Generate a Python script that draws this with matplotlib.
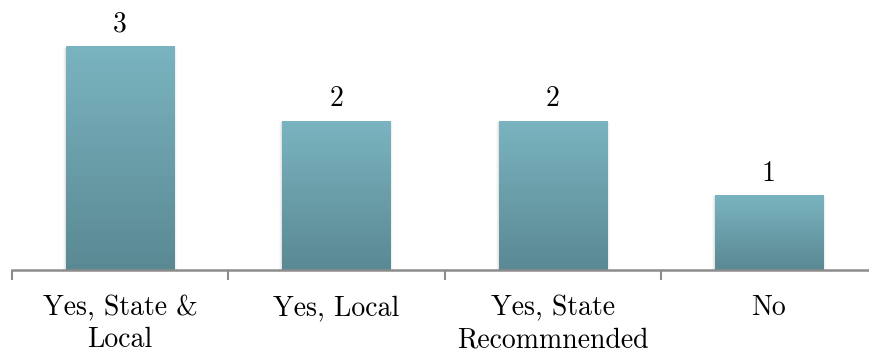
import numpy as np
import matplotlib.pyplot as plt
from matplotlib.patches import Rectangle

plt.rcParams['font.family'] = ['cmr10', 'DejaVu Serif']
plt.rcParams['axes.formatter.use_mathtext'] = True

categories = ["Yes, State &\nLocal", "Yes, Local", "Yes, State\nRecommnended", "No"]
counts = [3, 2, 2, 1]

bar_width = 0.5
top_color = np.array([0x7a, 0xb4, 0xc0]) / 255.
bottom_color = np.array([0x5a, 0x89, 0x93]) / 255.

fig = plt.figure(figsize=(8.69, 3.52), dpi=100)
ax = fig.add_axes([12 / 869., 82 / 352., 865 / 869., 270 / 352.])

x = np.arange(len(categories))

# vertical gradient, top light to bottom dark
grad = np.linspace(0, 1, 256)[:, None]
grad_rgb = top_color[None, None, :] * (1 - grad[..., None]) + bottom_color[None, None, :] * grad[..., None]

for xi, v in zip(x, counts):
    left = xi - bar_width / 2
    # faint shadow around the sides
    for k, a in zip([0.014, 0.009, 0.004], [0.025, 0.035, 0.05]):
        ax.add_patch(Rectangle((left - k, 0), bar_width + 2 * k, v - 0.01,
                               facecolor='black', edgecolor='none', alpha=a, zorder=1))
    ax.imshow(grad_rgb, extent=(left, left + bar_width, 0, v), aspect='auto',
              origin='upper', zorder=2, interpolation='bilinear')
    ax.text(xi, v + 0.2, str(v), ha='center', va='baseline', fontsize=20, color='black')

ax.set_xlim(-0.5, len(categories) - 0.5)
ax.set_ylim(0, 3.63)

for s in ['top', 'right', 'left']:
    ax.spines[s].set_visible(False)
ax.spines['bottom'].set_color('#8c8c8c')
ax.spines['bottom'].set_linewidth(1.8)
ax.spines['bottom'].set_zorder(3)

ax.set_yticks([])
ax.set_xticks(np.arange(-0.5, len(categories)), labels=[])
ax.tick_params(axis='x', which='major', length=7, width=1.5, color='#8c8c8c', direction='out')
ax.set_xticks(x, labels=categories, minor=True)
ax.tick_params(axis='x', which='minor', length=0, pad=18, labelsize=20)
for lbl in ax.get_xticklabels(minor=True):
    lbl.set_linespacing(1.28)

fig.savefig('out.png', dpi=100)
